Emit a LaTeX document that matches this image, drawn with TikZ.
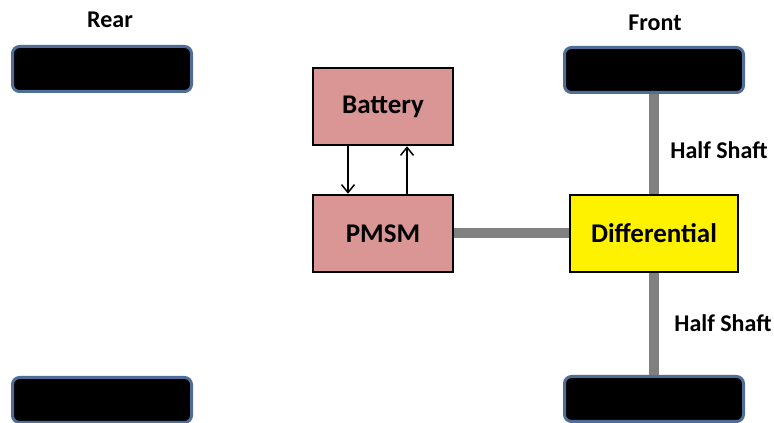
\documentclass[tikz,border=0pt]{standalone}
\usepackage{fontspec}
\setmainfont{Carlito}
\usepackage{xcolor}
\usepackage{tikz}
\usetikzlibrary{positioning,arrows.meta}
\definecolor{rimblue}{RGB}{79,109,150}
\definecolor{boxpink}{RGB}{217,150,148}
\definecolor{shaftgray}{RGB}{128,128,128}
\tikzset{
    wheel/.style={rectangle, rounded corners=7pt, draw=rimblue, line width=3pt, fill=black, minimum width=179pt, minimum height=45pt},
    component/.style={rectangle, draw, line width=2.5pt, fill=boxpink, minimum width=140pt, minimum height=77pt, font=\bfseries\fontsize{27}{30}\selectfont},
    diff box/.style={rectangle, draw, line width=2.5pt, fill=yellow, minimum width=168pt, minimum height=77pt, font=\bfseries\fontsize{27}{30}\selectfont},
    side label/.style={font=\bfseries\fontsize{24}{27}\selectfont, inner sep=1pt},
    shaft/.style={line width=10pt, shaftgray},
    flow/.style={line width=1.5pt, -{Straight Barb[length=8pt,width=13pt,line width=1.5pt]}}
}

\begin{document}
\begin{tikzpicture}[x=1pt, y=1pt]
    \clip (0,0) rectangle (774,423);

    \node[side label] (rear) at (110,403) {Rear};
    \node[side label] (front) at (655,400) {Front};

    \node[wheel] (rl) at (102,354) {};
    \node[wheel] (rr) at (102,23) {};
    \node[wheel] (fl) at (654,353) {};
    \node[wheel] (fr) at (654,24) {};

    \node[component] (battery) at (383,316.5) {Battery};
    \node[component] (pmsm) at (383,189.5) {PMSM};
    \node[diff box] (diff) at (654,189.5) {Differential};

    \draw[shaft] (pmsm.east) -- (diff.west);
    \draw[shaft] (fl.south) -- (diff.north);
    \draw[shaft] (diff.south) -- (fr.north);

    \draw[flow] ([xshift=-35pt]battery.south) -- ([xshift=-35pt]pmsm.north);
    \draw[flow] ([xshift=24pt]pmsm.north) -- ([xshift=24pt]battery.south);

    \node[side label] (upper) at (719,273) {Half Shaft};
    \node[side label] (lower) at (723,100) {Half Shaft};
\end{tikzpicture}
\end{document}
